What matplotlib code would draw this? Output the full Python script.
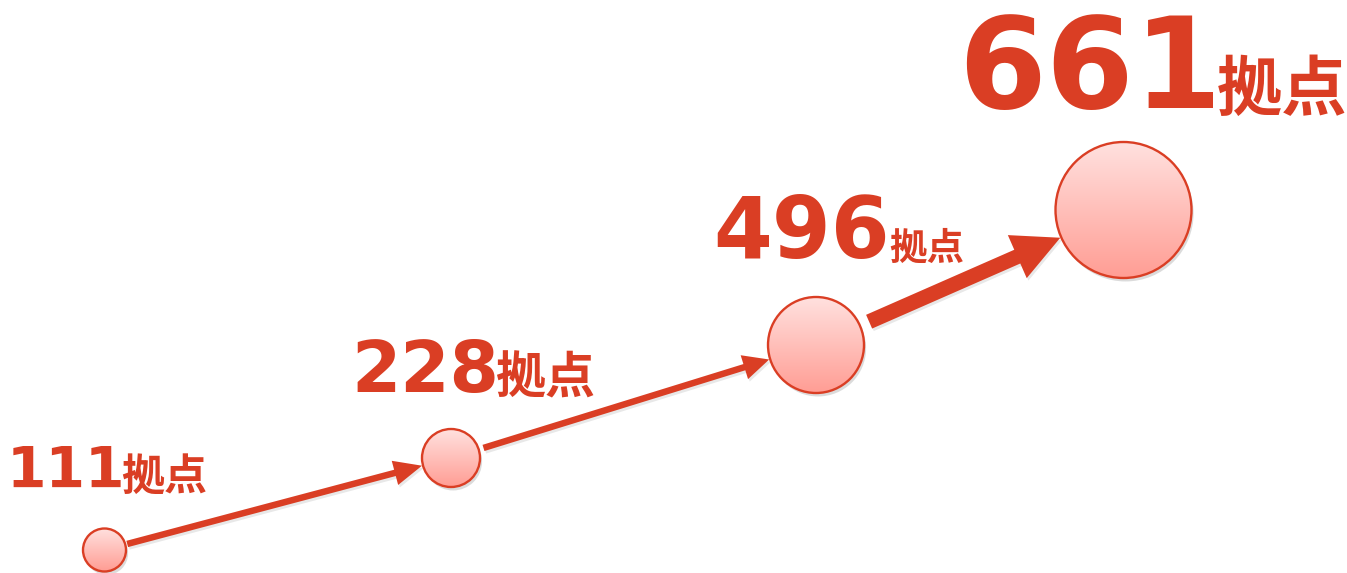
import numpy as np
import matplotlib
matplotlib.use("Agg")
import matplotlib.pyplot as plt
from matplotlib.patches import Circle, FancyArrow
from matplotlib.colors import LinearSegmentedColormap
import matplotlib.patheffects as pe

# Number of sites at each stage
counts = [111, 228, 496, 661]
unit = "拠点"

# Layout in pixel space (figure is 1347 x 573 px)
centers = [(104.5, 550), (451, 458), (816, 345), (1123.5, 210)]
radii = [21.5, 29, 48, 68]
label_pos = [(7, 488), (351, 392), (713, 258), (958, 108)]
num_sizes = [41, 51, 61, 91]
unit_sizes = [31, 36, 27, 47]
unit_gap = [-4, -4, 0, -5]

shaft_w = [6.5, 6.5, 15]
head_w = [25, 25, 47]
head_l = [28, 26, 47]
start_gap = [2, 5, 10]
tip_gap = [1, 1, 1]

RED = "#DA3E24"
grad = LinearSegmentedColormap.from_list("pinkgrad", ["#FFE1DF", "#FF9D94"])

W, H = 1347, 573
fig = plt.figure(figsize=(W / 100, H / 100), dpi=100)
ax = fig.add_axes([0, 0, 1, 1])
ax.set_xlim(0, W)
ax.set_ylim(H, 0)
ax.set_axis_off()

shadow = [pe.SimplePatchShadow(offset=(1.2, -1.8), shadow_rgbFace="0.5", alpha=0.18), pe.Normal()]

# Arrows between consecutive stages
for i in range(len(counts) - 1):
    (x0, y0), (x1, y1) = centers[i], centers[i + 1]
    d = np.array([x1 - x0, y1 - y0])
    u = d / np.hypot(*d)
    p0 = np.array([x0, y0]) + u * (radii[i] + start_gap[i])
    p1 = np.array([x1, y1]) - u * (radii[i + 1] + tip_gap[i])
    arr = FancyArrow(p0[0], p0[1], *(p1 - p0), width=shaft_w[i],
                     head_width=head_w[i], head_length=head_l[i],
                     length_includes_head=True, color=RED, lw=0, zorder=2)
    arr.set_path_effects(shadow)
    ax.add_patch(arr)

# Circles with vertical gradient fill
gimg = np.linspace(0, 1, 256).reshape(-1, 1)
for (cx, cy), r in zip(centers, radii):
    back = Circle((cx, cy), r, facecolor="white", edgecolor="none", zorder=3)
    back.set_path_effects([pe.SimplePatchShadow(offset=(1.5, -2.5), shadow_rgbFace="0.45", alpha=0.25), pe.Normal()])
    ax.add_patch(back)
    im = ax.imshow(gimg, cmap=grad, extent=(cx - r, cx + r, cy + r, cy - r),
                   aspect="auto", zorder=4, interpolation="bilinear")
    clip = Circle((cx, cy), r, transform=ax.transData)
    im.set_clip_path(clip)
    ax.add_patch(Circle((cx, cy), r, facecolor="none", edgecolor=RED, lw=1.7, zorder=5))

ax.set_xlim(0, W)
ax.set_ylim(H, 0)

# Labels: number followed by unit
fig.canvas.draw()
renderer = fig.canvas.get_renderer()
for n, (lx, ly), ns, us, g in zip(counts, label_pos, num_sizes, unit_sizes, unit_gap):
    t = ax.text(lx, ly, f"{n}", fontsize=ns, fontweight="bold", color=RED,
                family="DejaVu Sans", ha="left", va="baseline", zorder=6)
    bb = t.get_window_extent(renderer)
    xr = ax.transData.inverted().transform((bb.x1, bb.y0))[0]
    ax.text(xr + g, ly + 2, unit, fontsize=us, fontweight="bold", color=RED,
            family=["Noto Sans CJK JP", "DejaVu Sans"], ha="left", va="baseline", zorder=6)

fig.savefig("out.png", dpi=100, facecolor="white")
